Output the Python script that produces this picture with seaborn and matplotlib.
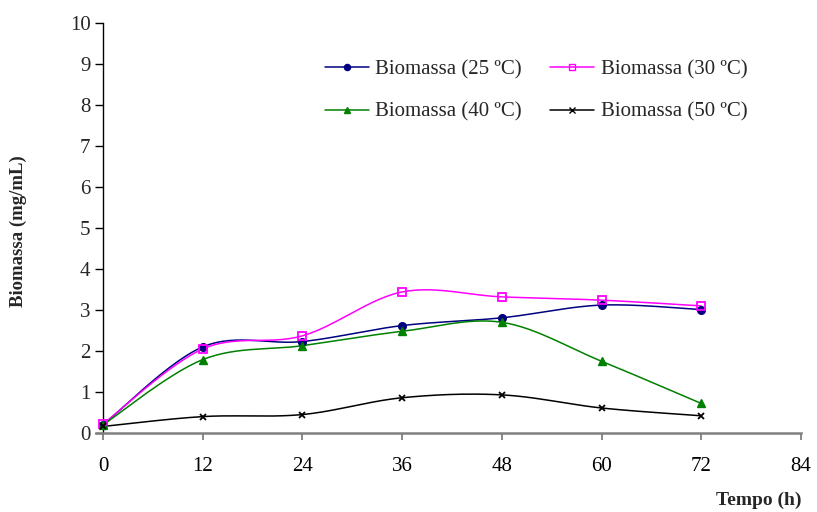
import numpy as np
import pandas as pd
import matplotlib
matplotlib.use("Agg")
import matplotlib.pyplot as plt
from matplotlib.lines import Line2D
import seaborn as sns

# Sampling times (h)
tempo = [0, 12, 24, 36, 48, 60, 72]

# Biomass (mg/mL) at each temperature
bio_25 = [0.20, 2.10, 2.23, 2.62, 2.81, 3.12, 3.01]
bio_30 = [0.22, 2.05, 2.37, 3.44, 3.32, 3.24, 3.10]
bio_40 = [0.20, 1.79, 2.13, 2.48, 2.70, 1.75, 0.72]
bio_50 = [0.16, 0.40, 0.45, 0.86, 0.93, 0.61, 0.42]

labels = ["Biomassa (25 ºC)", "Biomassa (30 ºC)", "Biomassa (40 ºC)", "Biomassa (50 ºC)"]
series = [bio_25, bio_30, bio_40, bio_50]
colors = ["#000080", "#FF00FF", "#008000", "#000000"]
markers = ["o", "s", "^", "x"]
msizes = [5.5, 6, 6, 5]
mfaces = ["#000080", "none", "#008000", "#000000"]

x_ticks = [0, 12, 24, 36, 48, 60, 72, 84]
y_ticks = list(range(0, 11))


def smooth(x, y, n=30):
    """Bezier smoothing through every point (spreadsheet-style smoothed line)."""
    x = np.asarray(x, float)
    y = np.asarray(y, float)
    xs, ys = [], []
    for i in range(len(x) - 1):
        p0 = np.array([x[max(i - 1, 0)], y[max(i - 1, 0)]])
        p1 = np.array([x[i], y[i]])
        p2 = np.array([x[i + 1], y[i + 1]])
        p3 = np.array([x[min(i + 2, len(x) - 1)], y[min(i + 2, len(x) - 1)]])
        c1 = p1 + (p2 - p0) / 6.0
        c2 = p2 - (p3 - p1) / 6.0
        t = np.linspace(0, 1, n, endpoint=(i == len(x) - 2))[:, None]
        pts = ((1 - t) ** 3) * p1 + 3 * ((1 - t) ** 2) * t * c1 + 3 * (1 - t) * t ** 2 * c2 + t ** 3 * p2
        xs.extend(pts[:, 0])
        ys.extend(pts[:, 1])
    return np.array(xs), np.array(ys)


sns.set_style("ticks")
plt.rcParams["font.family"] = ["Liberation Serif", "DejaVu Serif"]

fig = plt.figure(figsize=(8.17, 5.12), dpi=100)
ax = fig.add_axes([103 / 817, 1 - 433 / 512, (801 - 103) / 817, (433 - 23) / 512])

curves = []
for lab, ys, col in zip(labels, series, colors):
    sx, sy = smooth(tempo, ys)
    curves.append(pd.DataFrame({"Tempo": sx, "Biomassa": sy, "Serie": lab}))
curve_df = pd.concat(curves, ignore_index=True)
sns.lineplot(data=curve_df, x="Tempo", y="Biomassa", hue="Serie", palette=dict(zip(labels, colors)),
             linewidth=1.1, legend=False, ax=ax, sort=False, estimator=None)

points_df = pd.DataFrame({
    "Tempo": tempo * 4,
    "Biomassa": bio_25 + bio_30 + bio_40 + bio_50,
    "Serie": [l for l in labels for _ in tempo],
})
for lab, col, mk, ms, mf in zip(labels, colors, markers, msizes, mfaces):
    sub = points_df[points_df["Serie"] == lab]
    ax.plot(sub["Tempo"], sub["Biomassa"], linestyle="none", marker=mk, markersize=ms,
            markerfacecolor=mf, markeredgecolor=col, markeredgewidth=1.3 if mk in ("s", "x") else 1,
            zorder=3, clip_on=False)

ax.set_xlim(0, 84)
ax.set_ylim(0, 10)
ax.set_xticks(x_ticks)
ax.set_yticks(y_ticks)
ax.tick_params(axis="y", labelsize=15, direction="out", length=6, width=1, pad=3,
               color="#000000")
ax.tick_params(axis="x", labelsize=15, direction="out", length=5, width=1.3, pad=12,
               color="#808080", labelcolor="#000000")
for s in ["top", "right"]:
    ax.spines[s].set_visible(False)
ax.spines["left"].set_color("#000000")
ax.spines["left"].set_linewidth(1)
ax.spines["bottom"].set_color("#808080")
ax.spines["bottom"].set_linewidth(1.8)
ax.spines["bottom"].set_bounds(-0.8, 84)
ax.set_xlabel("")
ax.set_ylabel("")

fig.text(18 / 817, 1 - 231 / 512, "Biomassa (mg/mL)", rotation=90, ha="center", va="center",
         fontsize=13.5, fontweight="bold")
fig.text(801 / 817, 1 - 500 / 512, "Tempo (h)", ha="right", va="center",
         fontsize=14, fontweight="bold")

handles = [Line2D([0], [0], color=c, marker=m, markersize=ms * 0.8, markerfacecolor=mf,
                  markeredgecolor=c, linewidth=1.1)
           for c, m, ms, mf in zip(colors, markers, msizes, mfaces)]
# legend is filled column by column, so order the entries to read row by row
order = [0, 2, 1, 3]
ax.legend([handles[i] for i in order], [labels[i] for i in order], ncol=2, frameon=False,
          fontsize=15, loc="upper left",
          bbox_to_anchor=(306 / 817, 1 - 41 / 512), bbox_transform=fig.transFigure,
          handlelength=2.1, handletextpad=0.33, columnspacing=1.35, labelspacing=1.1)

fig.savefig("out.png", dpi=100)
